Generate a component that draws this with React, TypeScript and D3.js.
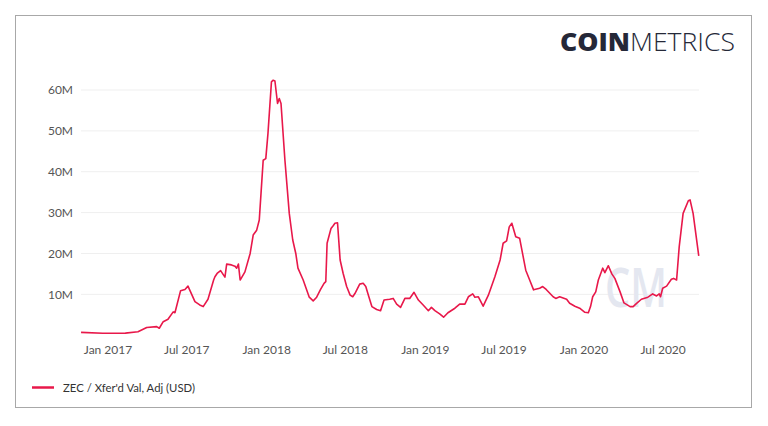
import React from "react";
import * as d3 from "d3";

const dates: string[] = [
  "2016-10-31","2016-12-20","2017-02-10","2017-03-11","2017-03-31","2017-04-23","2017-04-29","2017-05-08","2017-05-19","2017-05-31",
  "2017-06-04","2017-06-17","2017-06-27","2017-07-04","2017-07-20","2017-07-31","2017-08-08","2017-08-19","2017-09-01","2017-09-04",
  "2017-09-09","2017-09-17","2017-09-27","2017-10-01","2017-10-12","2017-10-20","2017-10-24","2017-10-28","2017-11-01","2017-11-12",
  "2017-11-24","2017-12-01","2017-12-09","2017-12-15","2017-12-19","2017-12-24","2017-12-30","2018-01-04","2018-01-12","2018-01-16",
  "2018-01-20","2018-01-26","2018-01-30","2018-02-03","2018-02-12","2018-02-22","2018-03-02","2018-03-09","2018-03-14","2018-03-26",
  "2018-04-09","2018-04-18","2018-04-26","2018-05-05","2018-05-13","2018-05-17","2018-05-20","2018-05-29","2018-06-03","2018-06-07",
  "2018-06-13","2018-06-19","2018-06-26","2018-07-04","2018-07-12","2018-07-18","2018-07-23","2018-08-03","2018-08-11","2018-08-17",
  "2018-08-23","2018-08-31","2018-09-11","2018-09-20","2018-09-28","2018-10-11","2018-10-19","2018-10-27","2018-11-05","2018-11-15",
  "2018-11-26","2018-12-06","2018-12-16","2018-12-27","2019-01-08","2019-01-15","2019-01-23","2019-02-03","2019-02-12","2019-02-22",
  "2019-03-10","2019-03-21","2019-04-02","2019-04-10","2019-04-20","2019-04-25","2019-05-03","2019-05-14","2019-05-26","2019-06-10",
  "2019-06-22","2019-06-29","2019-07-07","2019-07-13","2019-07-19","2019-07-28","2019-08-06","2019-08-20","2019-08-29","2019-09-07",
  "2019-09-21","2019-09-28","2019-10-06","2019-10-22","2019-10-28","2019-11-06","2019-11-22","2019-11-29","2019-12-11","2019-12-22",
  "2020-01-03","2020-01-11","2020-01-16","2020-01-21","2020-01-28","2020-02-03","2020-02-13","2020-02-18","2020-02-26","2020-03-05",
  "2020-03-12","2020-03-24","2020-04-02","2020-04-16","2020-04-23","2020-05-01","2020-05-12","2020-05-27","2020-06-07","2020-06-16",
  "2020-06-22","2020-06-25","2020-06-30","2020-07-09","2020-07-20","2020-07-25","2020-08-01","2020-08-07","2020-08-16","2020-08-28",
  "2020-09-01","2020-09-08","2020-09-21"
];

const values: number[] = [
  0.7,0.46,0.5,0.85,1.9,2.1,1.7,3.3,3.9,5.7,
  5.5,10.9,11.2,12.0,8.2,7.4,7.0,8.8,13.5,14.3,
  15.1,15.8,14.2,17.4,17.2,16.9,16.4,17.4,13.5,15.5,
  20.0,24.5,25.7,28.2,34.7,42.8,43.2,49.4,62.0,62.4,
  62.2,56.7,57.9,56.7,42.8,29.8,23.3,20.0,16.4,13.5,
  9.3,8.4,9.3,11.2,12.7,13.1,22.5,26.1,26.8,27.4,
  27.5,18.4,15.1,11.9,9.8,9.4,10.2,12.5,12.7,11.9,
  9.8,7.0,6.3,6.0,8.6,8.8,9.0,7.6,6.8,9.0,
  9.0,10.5,8.6,7.4,6.0,6.8,6.0,5.2,4.4,5.5,
  6.6,7.6,7.6,9.4,10.1,9.3,9.4,7.1,9.8,14.3,
  18.4,22.5,23.1,26.5,27.4,24.1,23.7,15.9,13.5,11.1,
  11.5,11.9,11.2,9.4,9.0,9.4,8.8,7.8,7.1,6.6,
  5.6,5.5,7.0,9.4,10.6,13.5,16.4,15.3,17.0,15.0,
  13.9,10.6,7.9,7.0,7.0,7.8,8.8,9.3,10.1,9.6,
  10.1,9.4,11.5,12.0,13.7,13.9,13.5,21.6,29.8,32.9,
  33.1,29.8,19.4
];

const yTicks: number[] = [10, 20, 30, 40, 50, 60];
const xTickDates: string[] = ["2017-01-01","2017-07-01","2018-01-01","2018-07-01","2019-01-01","2019-07-01","2020-01-01","2020-07-01"];
const seriesLabel = "ZEC / Xfer'd Val, Adj (USD)";

export default function App() {
  const W = 768, H = 426;
  const parse = d3.utcParse("%Y-%m-%d");
  const data = dates.map((d, i) => ({ date: parse(d) as Date, v: values[i] }));
  const x = d3.scaleUtc()
    .domain([parse("2017-01-01") as Date, parse("2020-01-01") as Date])
    .range([108, 584]);
  const y = d3.scaleLinear().domain([0, 60]).range([335.2, 90]);
  const line = d3.line<{ date: Date; v: number }>()
    .x(d => x(d.date))
    .y(d => y(d.v))
    .curve(d3.curveLinear);
  const fmtX = d3.utcFormat("%b %Y");
  const font = "Lato, 'Open Sans', sans-serif";
  const red = "#e8184a";

  return (
    <svg width={W} height={H} style={{ position: "absolute", left: 0, top: 0, background: "#fff" }}>
      <rect x={15.5} y={15.5} width={736} height={392} fill="#fff" stroke="#a8a8a8" strokeWidth={1} />
      <text x={560} y={51} fontFamily="'Open Sans', Roboto, sans-serif" fontSize={25} fill="#252838">
        <tspan fontWeight={800} textLength={70} lengthAdjust="spacingAndGlyphs">COIN</tspan>
        <tspan fontWeight={300} textLength={105} lengthAdjust="spacingAndGlyphs">METRICS</tspan>
      </text>
      {yTicks.map(t => (
        <g key={t}>
          <line x1={81} x2={699} y1={y(t)} y2={y(t)} stroke="#efefef" strokeWidth={1} />
          <text x={73} y={y(t)} dy="0.35em" textAnchor="end" fontFamily={font} fontSize={12} fill="#555">{t}M</text>
        </g>
      ))}
      <text x={636} y={307} textAnchor="middle" fontFamily="'Open Sans', sans-serif" fontWeight={600} fontSize={54} fill="#e4e7f0" textLength={62} lengthAdjust="spacingAndGlyphs">CM</text>
      {xTickDates.map(s => {
        const d = parse(s) as Date;
        return (
          <text key={s} x={x(d)} y={350} dy="0.35em" textAnchor="middle" fontFamily={font} fontSize={12} fill="#555">{fmtX(d)}</text>
        );
      })}
      <path d={line(data) || ""} fill="none" stroke={red} strokeWidth={1.6} strokeLinejoin="round" />
      <line x1={32} x2={54} y1={387.5} y2={387.5} stroke={red} strokeWidth={2.5} />
      <text x={63} y={387.5} dy="0.35em" fontFamily={font} fontSize={12} fill="#333" textLength={132} lengthAdjust="spacingAndGlyphs">{seriesLabel}</text>
    </svg>
  );
}
